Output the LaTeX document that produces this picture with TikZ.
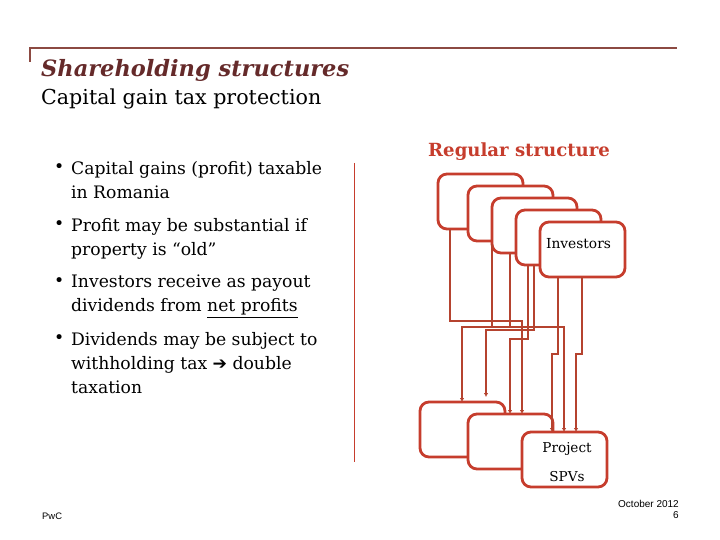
\documentclass[tikz,border=0pt]{standalone}
\usepackage{fontspec}
\setmainfont{DejaVu Serif}
\newfontfamily\footfont{Liberation Sans}
\newfontfamily\symfont{DejaVu Sans}
\usetikzlibrary{arrows.meta}
\definecolor{pwcred}{HTML}{C63D2D}
\definecolor{linkred}{HTML}{B5432F}
\definecolor{rulebrown}{HTML}{8C4A42}
\definecolor{titlebrown}{HTML}{652A2A}
\tikzset{
  holder/.style={draw=pwcred,line width=2.8pt,rounded corners=9pt,fill=white,minimum width=85pt,minimum height=55pt,inner sep=0pt,outer sep=0pt,anchor=north west},
  link/.style={draw=linkred,line width=1.6pt,-{Latex[length=4pt,width=4.5pt]}},
  item/.style={anchor=north west,inner sep=0pt,align=left,font=\fontsize{17.2}{24}\selectfont},
  dot/.style={anchor=north west,inner sep=0pt,font=\fontsize{17.2}{24}\selectfont}
}
\begin{document}
\begin{tikzpicture}[x=1pt,y=-1pt]
  \useasboundingbox (0,0) rectangle (720,540);

  % Header
  \draw[rulebrown,line width=1.6pt] (30,62) -- (30,48) -- (677,48);
  \node[anchor=base west,inner sep=0pt,text=titlebrown,font=\fontsize{22.5}{24}\selectfont\bfseries\itshape] (title) at (41,77) {Shareholding structures};
  \node[anchor=base west,inner sep=0pt,font=\fontsize{20.6}{24}\selectfont] (subtitle) at (41,105) {Capital gain tax protection};

  % Bullets
  \foreach \y/\txt in {161/{Capital gains (profit) taxable\\in Romania},
    218/{Profit may be substantial if\\property is ``old''},
    275/{Investors receive as payout\\dividends from \underline{net profits}},
    332/{Dividends may be subject to\\withholding tax {\symfont\bfseries ➔} double\\taxation}}{
    \node[dot] (dot\y) at (54,\y+2) {\textbullet};
    \node[item] (item\y) at (71,\y) {\txt};
  }

  % Divider
  \draw[pwcred,line width=1pt] (354,163) -- (354,462);

  \node[anchor=base west,inner sep=0pt,text=pwcred,font=\fontsize{18.1}{24}\selectfont\bfseries] (regular) at (428,157) {Regular structure};

  % Investors
  \node[holder] (inv1) at (438,174) {};
  \node[holder] (inv2) at (468,186) {};
  \node[holder] (inv3) at (492,198) {};
  \node[holder] (inv4) at (516,210) {};
  \node[holder] (inv5) at (540,222) {\raisebox{12pt}{\fontsize{13.8}{16}\selectfont Investors\hspace*{8pt}}};

  % Project companies
  \node[holder] (spv1) at (420,402) {};
  \node[holder] (spv2) at (468,414) {};
  \node[holder,align=center] (spv3) at (522,432) {\fontsize{13.6}{16}\selectfont\hspace*{5pt}\rule{0pt}{15pt}Project\\[15pt]\fontsize{13.6}{16}\selectfont\hspace*{5pt}SPVs};

  \coordinate (free) at (486,397);

  % Connectors
  \draw[link] ([xshift=12pt]inv1.south west) -- ++(0,92) -| ([xshift=54pt]spv2.north west);
  \draw[link] ([xshift=18pt]inv3.south west) -- ++(0,74) -| ([xshift=42pt]spv1.north west);
  \draw[link] ([xshift=18pt]inv4.south west) -- ++(0,65) -| (free);
  \draw[link] ([yshift=9pt]inv3.south west) -- ++(0,83) -| ([xshift=42pt]spv3.north west);
  \draw[link] ([xshift=12pt]inv4.south west) -- ++(0,74) -| ([xshift=42pt]spv2.north west);
  \draw[link] ([xshift=18pt]inv5.south west) -- ++(0,77) -| ([xshift=30pt]spv3.north west);
  \draw[link] ([xshift=42pt]inv5.south west) -- ++(0,77) -| ([xshift=54pt]spv3.north west);

  % Footer
  \node[anchor=base west,inner sep=0pt,font=\footfont\fontsize{9.4}{11}\selectfont] (pwc) at (42,519) {PwC};
  \node[anchor=north east,inner sep=0pt,align=right,font=\footfont\fontsize{10}{11.5}\selectfont] (date) at (679,500) {October 2012\\6};
\end{tikzpicture}
\end{document}
